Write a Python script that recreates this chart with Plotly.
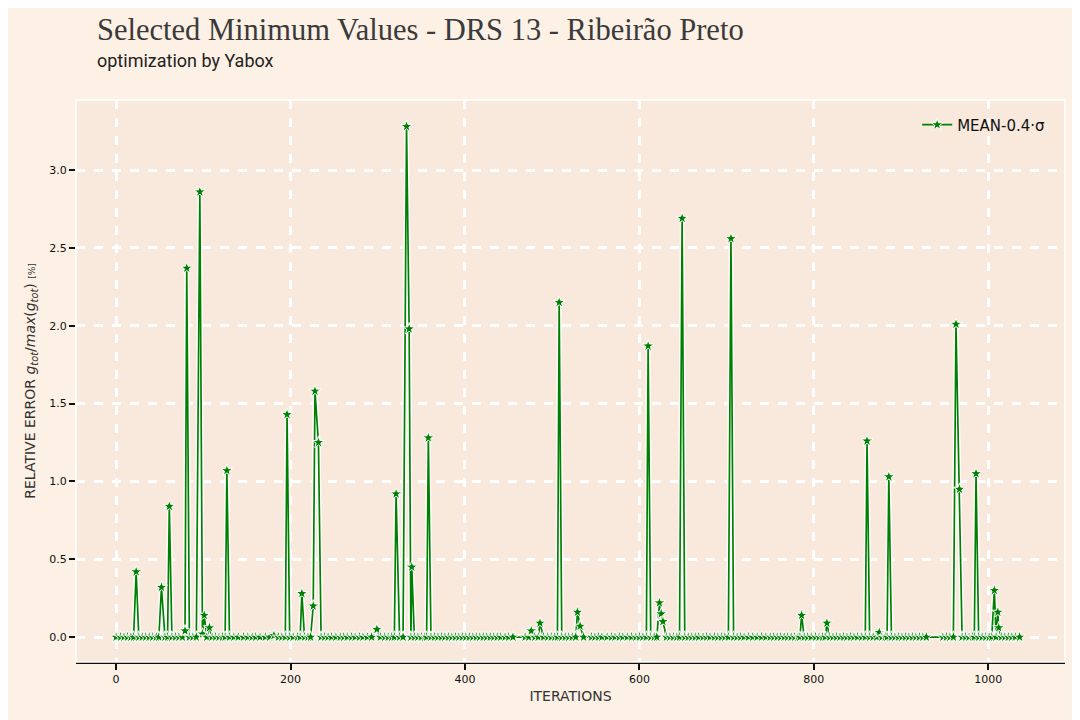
import plotly.graph_objects as go

# Iterations at which a minimum value was selected
iterations = [
    0, 5, 9, 13, 17, 20, 23, 26, 30, 34, 38, 42, 46, 49, 52, 56, 59, 61, 64, 68,
    72, 76, 79, 81, 84, 88, 92, 96, 99, 101, 104, 107, 110, 114, 118, 122, 125, 127, 130, 135,
    140, 146, 151, 156, 160, 165, 171, 176, 181, 186, 190, 194, 196, 199, 203, 208, 211, 213, 216, 220,
    223, 226, 228, 232, 235, 239, 243, 247, 252, 257, 261, 265, 270, 274, 279, 283, 288, 293, 299, 303,
    308, 312, 316, 319, 321, 325, 329, 333, 336, 338, 339, 342, 346, 350, 354, 356, 358, 361, 365, 369,
    373, 377, 381, 385, 389, 393, 397, 401, 405, 409, 413, 417, 421, 425, 429, 433, 437, 441, 446, 450,
    455, 469, 473, 476, 480, 484, 486, 490, 495, 499, 503, 506, 508, 511, 515, 519, 523, 527, 529, 532,
    536, 545, 549, 553, 557, 563, 568, 572, 577, 581, 586, 591, 596, 600, 604, 608, 610, 613, 617, 620,
    623, 625, 627, 631, 635, 639, 643, 646, 649, 652, 656, 660, 664, 668, 673, 677, 681, 686, 690, 694,
    698, 702, 705, 708, 712, 716, 720, 725, 730, 735, 740, 745, 750, 754, 758, 762, 766, 770, 774, 778,
    782, 784, 786, 789, 793, 797, 802, 806, 810, 813, 815, 818, 822, 826, 830, 834, 838, 842, 846, 850,
    855, 859, 861, 864, 868, 872, 875, 878, 882, 884, 886, 889, 893, 897, 901, 905, 909, 913, 917, 921,
    925, 929, 948, 952, 956, 960, 963, 967, 970, 974, 978, 982, 984, 986, 989, 993, 997, 1001, 1004, 1007,
    1009, 1011, 1012, 1015, 1019, 1023, 1027, 1031, 1036,
]

# Relative error g_tot / max(g_tot) in %
rel_error = [
    0, 0, 0, 0, 0, 0, 0.42, 0, 0, 0, 0, 0, 0, 0, 0.32, 0, 0, 0.84, 0, 0,
    0, 0, 0.04, 2.37, 0, 0, 0, 2.86, 0.02, 0.14, 0, 0.06, 0, 0, 0, 0, 0, 1.07, 0, 0,
    0, 0, 0, 0, 0, 0, 0, 0, 0.01, 0, 0, 0, 1.43, 0, 0, 0, 0, 0.28, 0, 0,
    0, 0.20, 1.58, 1.25, 0, 0, 0, 0, 0, 0, 0, 0, 0, 0, 0, 0, 0, 0, 0.05, 0,
    0, 0, 0, 0, 0.92, 0, 0, 3.28, 1.98, 0, 0.45, 0, 0, 0, 0, 0, 1.28, 0, 0, 0,
    0, 0, 0, 0, 0, 0, 0, 0, 0, 0, 0, 0, 0, 0, 0, 0, 0, 0, 0, 0,
    0, 0, 0, 0.04, 0, 0, 0.09, 0, 0, 0, 0, 0, 2.15, 0, 0, 0, 0, 0, 0.16, 0.07,
    0, 0, 0, 0, 0, 0, 0, 0, 0, 0, 0, 0, 0, 0, 0, 0, 1.87, 0, 0, 0,
    0.22, 0.15, 0.10, 0, 0, 0, 0, 0, 2.69, 0, 0, 0, 0, 0, 0, 0, 0, 0, 0, 0,
    0, 0, 2.56, 0, 0, 0, 0, 0, 0, 0, 0, 0, 0, 0, 0, 0, 0, 0, 0, 0,
    0, 0, 0.14, 0, 0, 0, 0, 0, 0, 0, 0.09, 0, 0, 0, 0, 0, 0, 0, 0, 0,
    0, 0, 1.26, 0, 0, 0, 0.03, 0, 0, 0, 1.03, 0, 0, 0, 0, 0, 0, 0, 0, 0,
    0, 0, 0, 0, 0, 0, 2.01, 0.95, 0, 0, 0, 0, 0, 1.05, 0, 0, 0, 0, 0, 0.30,
    0, 0.16, 0.06, 0, 0, 0, 0, 0, 0,
]

x_ticks = [0, 200, 400, 600, 800, 1000]
y_ticks = [0.0, 0.5, 1.0, 1.5, 2.0, 2.5, 3.0]

title_text = "Selected Minimum Values - DRS 13 - Ribeirão Preto"
subtitle_text = "optimization by Yabox"
series_name = "MEAN-0.4·σ"

GREEN = "#008000"
PAPER = "#fdf0e5"
PLOT = "#f9e8dc"

fig = go.Figure()

# white halo under the line (xkcd-like stroke)
fig.add_trace(go.Scatter(
    x=iterations, y=rel_error, mode="lines",
    line=dict(color="white", width=4.5),
    hoverinfo="skip", showlegend=False,
))
fig.add_trace(go.Scatter(
    x=iterations, y=rel_error, mode="lines+markers", name=series_name,
    line=dict(color=GREEN, width=1.7),
    marker=dict(symbol="star", size=9, color=GREEN,
                line=dict(color="white", width=1)),
))

fig.update_layout(
    width=1080, height=720,
    paper_bgcolor=PAPER, plot_bgcolor=PLOT,
    margin=dict(l=68, r=23, t=92, b=66),
    showlegend=True,
    legend=dict(x=0.985, y=0.985, xanchor="right", yanchor="top",
                bgcolor="rgba(0,0,0,0)",
                font=dict(family="DejaVu Sans", size=15, color="#111")),
    font=dict(family="DejaVu Sans", color="#222"),
    annotations=[
        dict(text=title_text, xref="paper", yref="paper",
             x=0.0192, y=1.1246, xanchor="left", yanchor="middle",
             showarrow=False,
             font=dict(family="Liberation Serif", size=30.5, color="#3a3a3a")),
        dict(text=subtitle_text, xref="paper", yref="paper",
             x=0.0192, y=1.0694, xanchor="left", yanchor="middle",
             showarrow=False,
             font=dict(family="Roboto", size=18, color="#222")),
    ],
    shapes=[
        dict(type="rect", xref="paper", yref="paper", x0=0, y0=0, x1=1, y1=1,
             line=dict(color="white", width=1.5), layer="above"),
    ],
)

fig.update_xaxes(
    automargin=False,
    range=[-46, 1088], tickvals=x_ticks, ticktext=[str(v) for v in x_ticks],
    showgrid=True, gridcolor="white", gridwidth=2.5, griddash="dash",
    zeroline=False,
    showline=True, linecolor="#111", linewidth=1.8,
    ticks="outside", ticklen=6, tickwidth=2, tickcolor="#111",
    tickfont=dict(family="DejaVu Sans", size=11, color="#111"),
    title=dict(text="ITERATIONS", font=dict(family="DejaVu Sans", size=14, color="#333"),
               standoff=6),
)
fig.update_yaxes(
    automargin=False,
    range=[-0.16, 3.45], tickvals=y_ticks, ticktext=[f"{v:.1f}" for v in y_ticks],
    showgrid=True, gridcolor="white", gridwidth=2.5, griddash="dash",
    zeroline=False, showline=False,
    ticks="outside", ticklen=6, tickwidth=2, tickcolor="#111",
    tickfont=dict(family="DejaVu Sans", size=11, color="#111"),
    title=dict(
        text="RELATIVE ERROR <i>g</i><sub><i>tot</i></sub>/<i>max</i>(<i>g</i><sub><i>tot</i></sub>) "
             "<span style='font-size:9px'>[%]</span>",
        font=dict(family="DejaVu Sans", size=14, color="#333"), standoff=10),
)

fig.write_html("out.html")
